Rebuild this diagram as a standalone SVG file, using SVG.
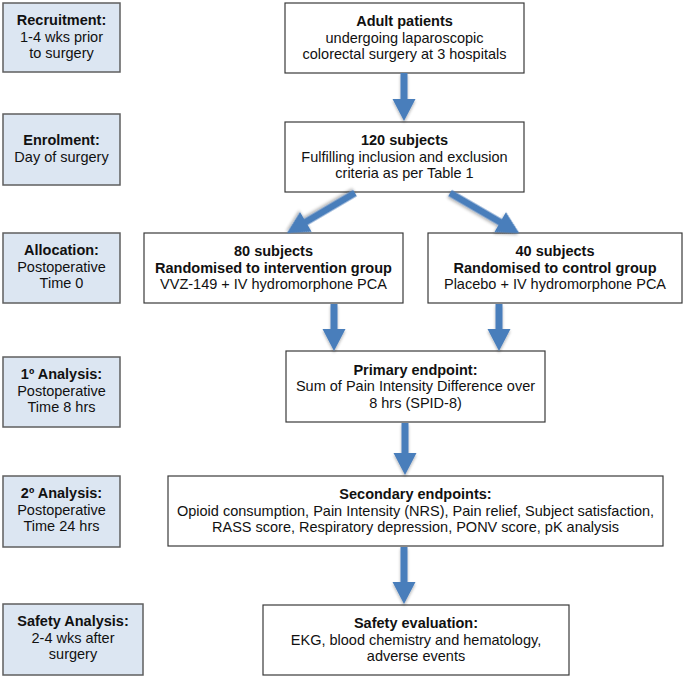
<svg xmlns="http://www.w3.org/2000/svg" width="690" height="678" viewBox="0 0 690 678">
<style>
  text { font-family: "Liberation Sans", Arial, sans-serif; font-size: 14.5px; fill: #111; text-anchor: middle; }
  .b { font-weight: bold; }
  .phase rect { fill: #dce6f2; stroke: #5f5f5f; stroke-width: 1.5; }
  .node rect { fill: #ffffff; stroke: #3a3a3a; stroke-width: 1.2; }
  .arrow { fill: #4a7ebb; filter: url(#sh); }
</style>
<defs>
  <filter id="sh" x="-30%" y="-30%" width="160%" height="160%">
    <feGaussianBlur in="SourceAlpha" stdDeviation="1.5"/>
    <feOffset dx="0" dy="2" result="o"/>
    <feComponentTransfer><feFuncA type="linear" slope="0.3"/></feComponentTransfer>
    <feMerge><feMergeNode/><feMergeNode in="SourceGraphic"/></feMerge>
  </filter>
</defs>
<rect width="690" height="678" fill="#ffffff"/>

<!-- Phase column -->
<g id="phase-recruitment" class="phase">
  <rect x="3" y="3" width="117" height="69"/>
  <text x="61.5" y="25" class="b">Recruitment:</text>
  <text x="61.5" y="41.5">1-4 wks prior</text>
  <text x="61.5" y="58">to surgery</text>
</g>
<g id="phase-enrolment" class="phase">
  <rect x="3" y="114" width="117" height="71"/>
  <text x="61.5" y="145" class="b">Enrolment:</text>
  <text x="61.5" y="161.5">Day of surgery</text>
</g>
<g id="phase-allocation" class="phase">
  <rect x="3" y="233" width="117" height="70"/>
  <text x="61.5" y="255" class="b">Allocation:</text>
  <text x="61.5" y="271.5">Postoperative</text>
  <text x="61.5" y="288">Time 0</text>
</g>
<g id="phase-primary" class="phase">
  <rect x="3" y="357" width="117" height="70"/>
  <text x="61.5" y="379" class="b">1º Analysis:</text>
  <text x="61.5" y="395.5">Postoperative</text>
  <text x="61.5" y="412">Time 8 hrs</text>
</g>
<g id="phase-secondary" class="phase">
  <rect x="3" y="476" width="117" height="71"/>
  <text x="61.5" y="498" class="b">2º Analysis:</text>
  <text x="61.5" y="514.5">Postoperative</text>
  <text x="61.5" y="531">Time 24 hrs</text>
</g>
<g id="phase-safety" class="phase">
  <rect x="3" y="604" width="140" height="71"/>
  <text x="73" y="626" class="b">Safety Analysis:</text>
  <text x="73" y="642.5">2-4 wks after</text>
  <text x="73" y="659">surgery</text>
</g>

<!-- Flow nodes -->
<g id="node-adult" class="node">
  <rect x="285" y="3" width="239" height="70"/>
  <text x="404.5" y="26" class="b">Adult patients</text>
  <text x="404.5" y="42.5">undergoing laparoscopic</text>
  <text x="404.5" y="59">colorectal surgery at 3 hospitals</text>
</g>
<g id="node-enrolled" class="node">
  <rect x="285" y="122" width="239" height="70"/>
  <text x="404.5" y="145" class="b">120 subjects</text>
  <text x="404.5" y="161.5">Fulfilling inclusion and exclusion</text>
  <text x="404.5" y="178">criteria as per Table 1</text>
</g>
<g id="node-intervention" class="node">
  <rect x="144" y="233" width="259" height="70"/>
  <text x="273.5" y="256" class="b">80 subjects</text>
  <text x="273.5" y="272.5" class="b">Randomised to intervention group</text>
  <text x="273.5" y="289">VVZ-149 + IV hydromorphone PCA</text>
</g>
<g id="node-control" class="node">
  <rect x="428" y="233" width="254" height="70"/>
  <text x="555" y="256" class="b">40 subjects</text>
  <text x="555" y="272.5" class="b">Randomised to control group</text>
  <text x="555" y="289">Placebo + IV hydromorphone PCA</text>
</g>
<g id="node-primary" class="node">
  <rect x="286" y="351" width="259" height="71"/>
  <text x="415.5" y="374.5" class="b">Primary endpoint:</text>
  <text x="415.5" y="391">Sum of Pain Intensity Difference over</text>
  <text x="415.5" y="407.5">8 hrs (SPID-8)</text>
</g>
<g id="node-secondary" class="node">
  <rect x="168" y="476" width="495" height="70"/>
  <text x="415.5" y="499" class="b">Secondary endpoints:</text>
  <text x="415.5" y="515.5">Opioid consumption, Pain Intensity (NRS), Pain relief, Subject satisfaction,</text>
  <text x="415.5" y="532">RASS score, Respiratory depression, PONV score, pK analysis</text>
</g>
<g id="node-safety" class="node">
  <rect x="263" y="605" width="306" height="70"/>
  <text x="416" y="628" class="b">Safety evaluation:</text>
  <text x="416" y="644.5">EKG, blood chemistry and hematology,</text>
  <text x="416" y="661">adverse events</text>
</g>

<!-- Connectors -->
<g id="connectors">
  <polygon class="arrow" points="400.5,73 407.5,73 407.5,99 415.5,99 404,121 392.5,99 400.5,99"/>
  <g transform="translate(355,193) rotate(149.5)">
    <polygon class="arrow" points="0,-3.5 57,-3.5 57,-11.5 79,0 57,11.5 57,3.5 0,3.5"/>
  </g>
  <g transform="translate(450,193) rotate(30.1)">
    <polygon class="arrow" points="0,-3.5 58,-3.5 58,-11.5 80,0 58,11.5 58,3.5 0,3.5"/>
  </g>
  <polygon class="arrow" points="330.5,304 337.5,304 337.5,329 345.5,329 334,351 322.5,329 330.5,329"/>
  <polygon class="arrow" points="495.5,304 502.5,304 502.5,329 510.5,329 499,351 487.5,329 495.5,329"/>
  <polygon class="arrow" points="401.5,423 408.5,423 408.5,453 416.5,453 405,475 393.5,453 401.5,453"/>
  <polygon class="arrow" points="400.5,547 407.5,547 407.5,582 415.5,582 404,604 392.5,582 400.5,582"/>
</g>
</svg>
